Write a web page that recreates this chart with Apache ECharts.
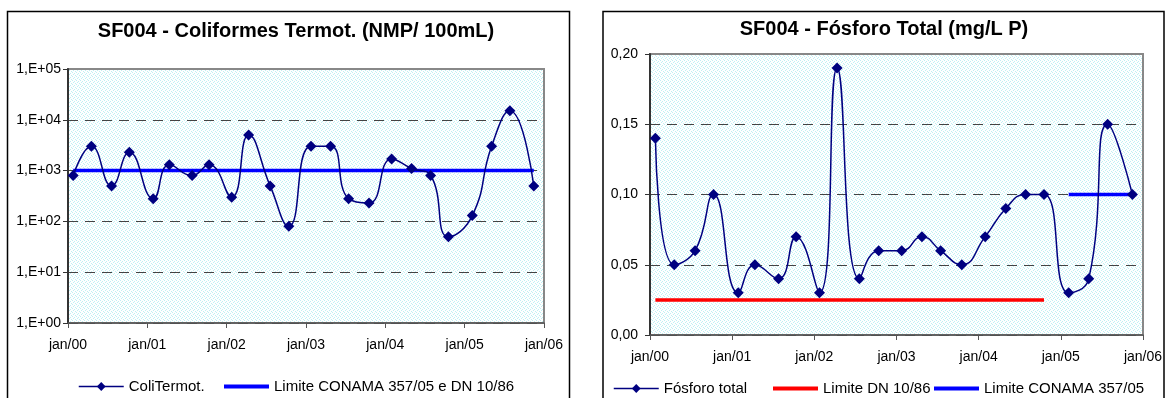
<!DOCTYPE html>
<html>
<head>
<meta charset="utf-8">
<script src="https://cdn.jsdelivr.net/npm/echarts@6/dist/echarts.min.js"></script>
<style>
html,body{margin:0;padding:0;background:#fff;}
#c{width:1168px;height:398px;}
</style>
</head>
<body>
<div id="c"></div>
<script>
// ---- data ----
const sampleDates = ['2000-01-25','2000-04-18','2000-07-20','2000-10-10','2001-01-28','2001-04-12','2001-07-26','2001-10-12','2002-01-24','2002-04-12','2002-07-20','2002-10-14','2003-01-24','2003-04-24','2003-07-16','2003-10-18','2004-01-30','2004-05-01','2004-07-28','2004-10-18','2005-02-05','2005-05-05','2005-07-28','2005-11-15'];
const coliTermot = [800,3000,500,2300,280,1300,800,1300,300,5000,500,80,3000,3000,280,230,1700,1100,800,50,130,3000,15000,500];
const fosforoTotal = [0.14,0.05,0.06,0.10,0.03,0.05,0.04,0.07,0.03,0.19,0.04,0.06,0.06,0.07,0.06,0.05,0.07,0.09,0.10,0.10,0.03,0.04,0.15,0.10];
const limiteColi = 1000;            // Limite CONAMA 357/05 e DN 10/86
const limiteDN = 0.025;             // Limite DN 10/86 (samples 1..20)
const limiteDNRange = [0, 19];
const limiteConama = 0.10;          // Limite CONAMA 357/05 (samples 21..24)
const limiteConamaRange = [20, 23];
const yearTicks = [2000, 2006];
const titles = ['SF004 - Coliformes Termot. (NMP/ 100mL)', 'SF004 - Fósforo Total (mg/L P)'];
const seriesNames = ['ColiTermot.', 'Limite CONAMA 357/05 e DN 10/86', 'Fósforo total', 'Limite DN 10/86', 'Limite CONAMA 357/05'];

function decYear(s){
  const d = new Date(s + 'T00:00:00Z');
  const y = d.getUTCFullYear();
  const a = Date.UTC(y,0,1), b = Date.UTC(y+1,0,1);
  return y + (d.getTime()-a)/(b-a);
}
const xs = sampleDates.map(decYear);

// dotted background pattern
const pc = document.createElement('canvas');
pc.width = 4; pc.height = 4;
const pctx = pc.getContext('2d');
pctx.fillStyle = '#ffffff'; pctx.fillRect(0,0,4,4);
pctx.fillStyle = '#bff0f4';
pctx.fillRect(0,0,1,1); pctx.fillRect(2,1,1,1); pctx.fillRect(1,2,1,1); pctx.fillRect(3,3,1,1);
const bgPattern = {image: pc, repeat: 'repeat'};

const FONT = '"Liberation Sans", Arial, sans-serif';
const navy = '#000080';

function xAxis(gi){
  return {
    type:'value', gridIndex: gi, min: yearTicks[0], max: yearTicks[1], interval: 1,
    axisLine:{show:true, onZero:false, lineStyle:{color:'#555', width:1.5}},
    axisTick:{show:true, inside:false, length:5, lineStyle:{color:'#555'}},
    axisLabel:{color:'#000', fontFamily:FONT, fontSize:14, margin:15,
      formatter: v => 'jan/' + String(Math.round(v)).slice(2)},
    splitLine:{show:false}
  };
}
const dashed = {show:true, showMaxLine:false, lineStyle:{color:'#444', type:[10,7], width:1}};

function legendItem(name, left, top, hideSymbol){
  const d = {name: name};
  if (hideSymbol) { d.itemStyle = {opacity: 0}; d.lineStyle = {width: 4}; }
  else { d.lineStyle = {width: 1.5}; }
  return {data:[d], left:left, top:top, itemWidth:45, itemHeight:11, padding:0,
    textStyle:{fontFamily:FONT, fontSize:15, color:'#000'}};
}

const chart = echarts.init(document.getElementById('c'), null, {renderer:'canvas'});
chart.setOption({
  animation:false,
  backgroundColor:'#fff',
  graphic:[
    {type:'rect', shape:{x:7.5, y:11.5, width:562, height:400}, style:{fill:'none', stroke:'#000', lineWidth:1.5}, z:-1},
    {type:'rect', shape:{x:603, y:11.5, width:561, height:400}, style:{fill:'none', stroke:'#000', lineWidth:1.5}, z:-1}
  ],
  title:[
    {text:titles[0], left:296, top:21, textAlign:'center', padding:0,
     textStyle:{fontFamily:FONT, fontSize:20, fontWeight:'bold', color:'#000'}},
    {text:titles[1], left:884, top:19, textAlign:'center', padding:0,
     textStyle:{fontFamily:FONT, fontSize:20, fontWeight:'bold', color:'#000'}}
  ],
  grid:[
    {left:68, top:69, width:476, height:254, show:true, backgroundColor:bgPattern, borderColor:'#888', borderWidth:2},
    {left:650, top:54, width:493, height:281, show:true, backgroundColor:bgPattern, borderColor:'#888', borderWidth:2}
  ],
  xAxis:[xAxis(0), xAxis(1)],
  yAxis:[
    {type:'log', gridIndex:0, logBase:10, min:1, max:100000,
     axisLine:{show:true, lineStyle:{color:'#333', width:2}},
     axisTick:{show:true, inside:false, length:5, lineStyle:{color:'#333'}},
     axisLabel:{color:'#000', fontFamily:FONT, fontSize:14, margin:7,
       formatter: v => '1,E+' + String(Math.round(Math.log10(v))).padStart(2,'0')},
     splitLine:dashed},
    {type:'value', gridIndex:1, min:0, max:0.2, interval:0.05,
     axisLine:{show:true, lineStyle:{color:'#333', width:2}},
     axisTick:{show:true, inside:false, length:5, lineStyle:{color:'#333'}},
     axisLabel:{color:'#000', fontFamily:FONT, fontSize:14, margin:12,
       formatter: v => v.toFixed(2).replace('.', ',')},
     splitLine:dashed}
  ],
  legend:[
    legendItem(seriesNames[0], 78, 379, false),
    legendItem(seriesNames[1], 222, 379, true),
    legendItem(seriesNames[2], 613, 381, false),
    legendItem(seriesNames[3], 771, 381, true),
    legendItem(seriesNames[4], 932, 381, true)
  ],
  series:[
    {name:seriesNames[1], type:'line', xAxisIndex:0, yAxisIndex:0,
     data: xs.map(x => [x, limiteColi]), symbol:'none', z:2,
     lineStyle:{color:'#0000ff', width:3.5}, itemStyle:{color:'#0000ff'}},
    {name:seriesNames[0], type:'line', xAxisIndex:0, yAxisIndex:0,
     data: xs.map((x,i) => [x, coliTermot[i]]), smooth:0.5, symbol:'diamond', symbolSize:11, z:3,
     lineStyle:{color:navy, width:1.5}, itemStyle:{color:navy}},
    {name:seriesNames[3], type:'line', xAxisIndex:1, yAxisIndex:1,
     data: xs.slice(limiteDNRange[0], limiteDNRange[1]+1).map(x => [x, limiteDN]), symbol:'none', z:2,
     lineStyle:{color:'#ff0000', width:3.5}, itemStyle:{color:'#ff0000'}},
    {name:seriesNames[4], type:'line', xAxisIndex:1, yAxisIndex:1,
     data: xs.slice(limiteConamaRange[0], limiteConamaRange[1]+1).map(x => [x, limiteConama]), symbol:'none', z:2,
     lineStyle:{color:'#0000ff', width:3.5}, itemStyle:{color:'#0000ff'}},
    {name:seriesNames[2], type:'line', xAxisIndex:1, yAxisIndex:1,
     data: xs.map((x,i) => [x, fosforoTotal[i]]), smooth:0.5, symbol:'diamond', symbolSize:11, z:3,
     lineStyle:{color:navy, width:1.5}, itemStyle:{color:navy}}
  ]
});
</script>
</body>
</html>
